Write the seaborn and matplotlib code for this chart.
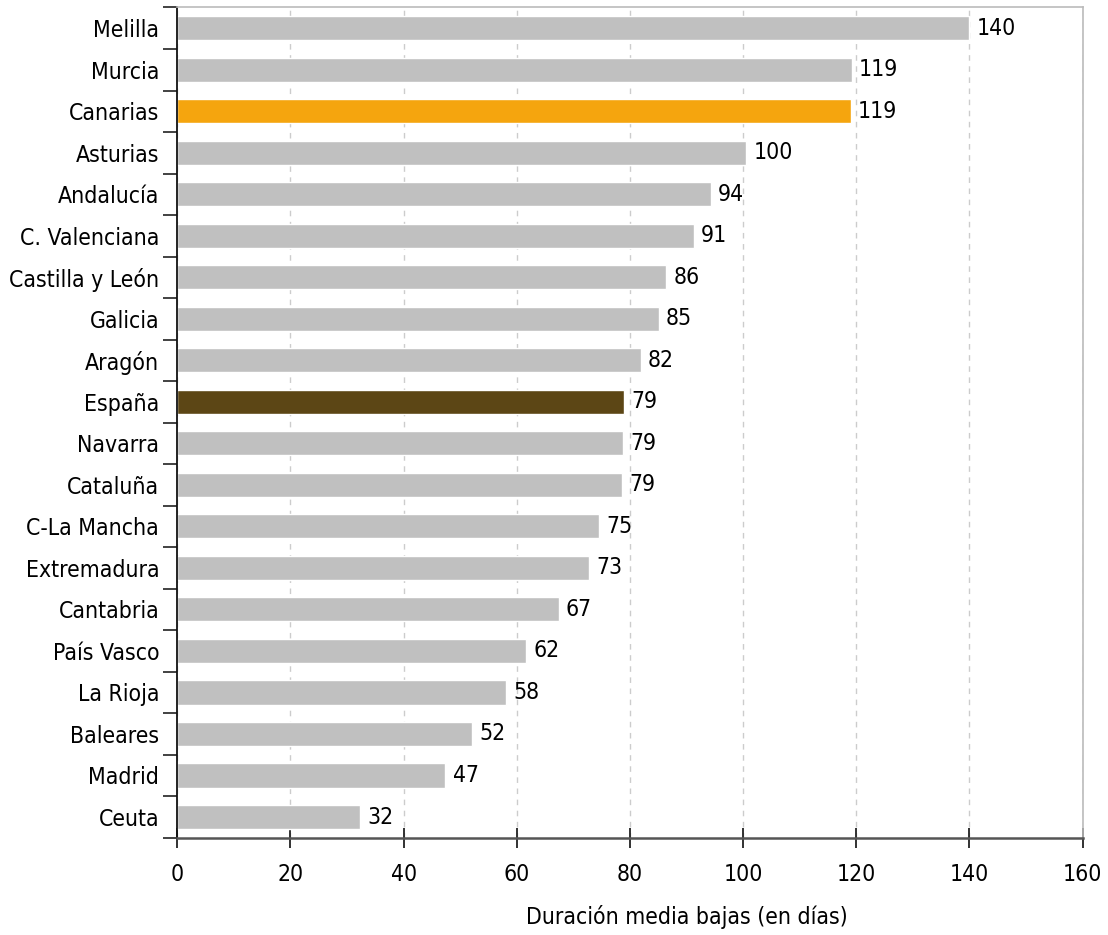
import numpy as np
import pandas as pd
import seaborn as sns
from matplotlib import pyplot as plt
from matplotlib import font_manager
from matplotlib.ticker import FixedLocator

regions = ['Melilla', 'Murcia', 'Canarias', 'Asturias', 'Andalucía', 'C. Valenciana',
           'Castilla y León', 'Galicia', 'Aragón', 'España', 'Navarra', 'Cataluña',
           'C-La Mancha', 'Extremadura', 'Cantabria', 'País Vasco', 'La Rioja',
           'Baleares', 'Madrid', 'Ceuta']
days = [140.0, 119.2, 119.0, 100.5, 94.3, 91.3, 86.4, 85.1, 81.9, 78.9, 78.8, 78.6,
        74.6, 72.8, 67.4, 61.6, 58.1, 52.1, 47.4, 32.3]
highlight = {'Canarias': '#F5A50E', 'España': '#5C4615'}
x_ticks = [0, 20, 40, 60, 80, 100, 120, 140, 160]

sns.set_style('white')

# narrow font if there is one
installed = {f.name for f in font_manager.fontManager.ttflist}
condensed = [f for f in font_manager.fontManager.ttflist
             if f.name.startswith('DejaVu Sans') and 'ondensed' in (f.stretch if isinstance(f.stretch, str) else '')]
if 'DejaVu Sans Condensed' in installed:
    fam, stretch = 'DejaVu Sans Condensed', 'normal'
elif condensed:
    fam, stretch = 'DejaVu Sans', 'condensed'
elif 'Liberation Sans Narrow' in installed:
    fam, stretch = 'Liberation Sans Narrow', 'normal'
else:
    fam, stretch = 'DejaVu Sans', 'normal'
plt.rcParams['font.family'] = [fam, 'DejaVu Sans']
plt.rcParams['font.stretch'] = stretch
plt.rcParams['text.color'] = 'black'
plt.rcParams['xtick.color'] = 'black'
plt.rcParams['ytick.color'] = 'black'
plt.rcParams['axes.labelcolor'] = 'black'

df = pd.DataFrame({'region': regions, 'days': days})
colors = [highlight.get(r, '#C0C0C0') for r in regions]

fig, ax = plt.subplots(figsize=(11.08, 9.35), dpi=100)
fig.subplots_adjust(left=0.16, right=0.977, top=0.992, bottom=0.104)

sns.barplot(data=df, x='days', y='region', hue='region', palette=colors,
            legend=False, width=0.58, ax=ax, saturation=1)

for i, v in enumerate(days):
    ax.text(v + 1.3, i, f'{v:.0f}', va='center', ha='left', fontsize=16.5)

ax.set_xlim(0, 160)
ax.set_ylim(len(regions) - 0.5, -0.5)
ax.set_xticks(x_ticks)
ax.xaxis.grid(True, linestyle=(0, (4, 4)), color='#CCCCCC', linewidth=1)
ax.set_axisbelow(True)

ax.tick_params(axis='y', which='major', length=0, labelsize=16.5, pad=13)
ax.yaxis.set_minor_locator(FixedLocator(np.arange(-0.5, len(regions), 1)))
ax.tick_params(axis='y', which='minor', length=10, width=1.3, color='#333333',
               direction='out', left=True)
ax.tick_params(axis='x', which='major', length=14, width=1.3, color='#222222',
               direction='inout', labelsize=16.5, pad=11, bottom=True)

for s in ['top', 'right']:
    ax.spines[s].set_color('#BBBBBB')
    ax.spines[s].set_linewidth(1.2)
ax.spines['left'].set_color('#111111')
ax.spines['left'].set_linewidth(1.3)
ax.spines['bottom'].set_color('#555555')
ax.spines['bottom'].set_linewidth(1.8)

ax.set_ylabel('')
ax.set_xlabel('Duración media bajas (en días)', fontsize=16.5, labelpad=14)
ax.xaxis.label.set_x(0.563)

fig.savefig('out.png', dpi=100)
